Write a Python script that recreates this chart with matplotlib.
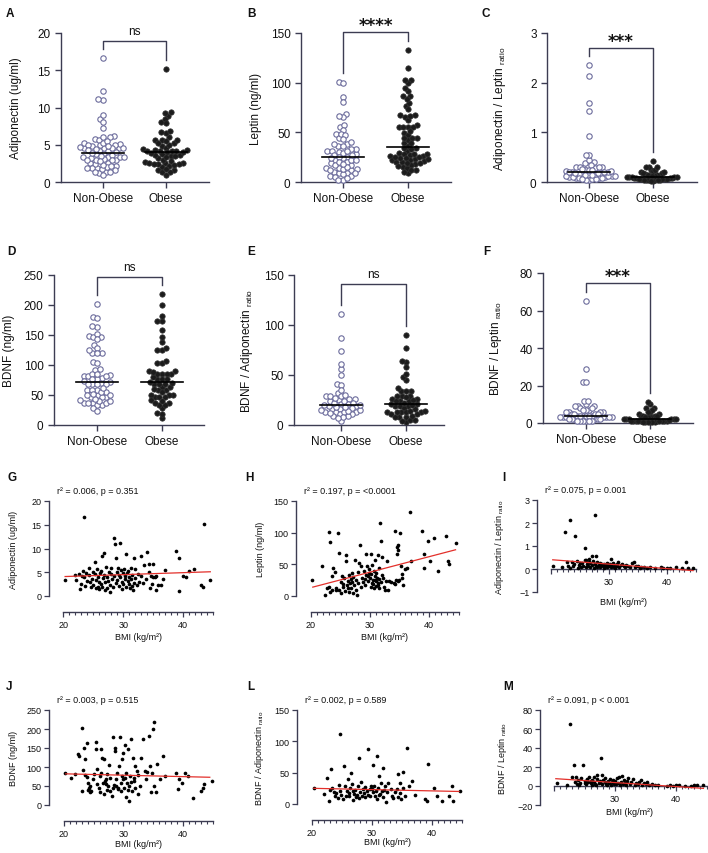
import numpy as np
import matplotlib
matplotlib.use("Agg")
import matplotlib.pyplot as plt
from matplotlib.ticker import FixedLocator, MultipleLocator

plt.rcParams["font.family"] = ["Liberation Sans", "DejaVu Sans"]
plt.rcParams["mathtext.fontset"] = "custom"
plt.rcParams["mathtext.rm"] = "Liberation Sans"
plt.rcParams["mathtext.it"] = "Liberation Sans:italic"
plt.rcParams["mathtext.bf"] = "Liberation Sans:bold"

# ---------------------------------------------------------------------------
# values: (BMI, value) for each participant
# ---------------------------------------------------------------------------
adipo_pts = [
    (20.3, 3.3), (21.9, 4.5), (22.1, 3.4), (22.6, 4.7), (22.8, 1.4), (23.0, 2.6),
    (23.1, 4.2), (23.4, 16.6), (23.3, 5.2), (23.5, 3.9), (23.6, 2.2), (23.8, 4.8),
    (23.9, 3.1), (24.2, 5.8), (24.3, 4.5), (24.4, 2.9), (24.6, 1.9), (24.8, 3.6),
    (24.9, 5.0), (25.0, 2.4), (25.2, 7.2), (25.3, 4.6), (25.4, 1.6), (25.5, 3.3),
    (25.6, 5.6), (25.7, 2.0), (25.8, 4.1), (25.9, 1.4), (26.0, 3.0), (26.1, 4.9),
    (26.2, 2.6), (26.3, 5.3), (26.5, 8.4), (26.5, 1.9), (26.6, 3.7), (26.7, 4.4),
    (26.8, 9.0), (26.9, 1.2), (27.0, 2.9), (27.1, 6.2), (27.2, 4.0), (27.3, 1.7),
    (27.5, 3.2), (27.6, 5.1), (27.7, 2.3), (27.8, 0.9), (27.9, 4.6), (28.0, 6.0),
    (28.1, 3.5), (28.2, 1.9), (28.4, 12.2), (28.5, 4.3), (28.6, 11.0), (28.7, 8.0),
    (28.8, 2.8), (28.9, 5.0), (29.0, 3.3), (29.1, 6.0), (29.2, 2.1), (29.3, 4.5),
    (29.4, 11.1), (29.5, 3.9), (29.6, 5.5), (29.7, 1.4), (29.8, 3.0), (29.9, 4.8),
    (30.0, 2.5), (30.1, 5.6), (30.2, 3.6), (30.3, 4.2), (30.4, 8.9), (30.5, 2.0),
    (30.6, 4.8), (30.7, 3.2), (30.8, 5.2), (30.9, 2.6), (31.0, 4.0), (31.1, 1.6),
    (31.2, 3.5), (31.3, 6.0), (31.4, 2.2), (31.5, 4.4), (31.6, 1.3), (31.7, 8.0),
    (31.8, 2.8), (31.9, 5.7), (32.0, 3.7), (32.2, 2.4), (32.4, 4.6), (32.6, 3.0),
    (32.9, 4.3), (33.0, 8.5), (33.2, 2.7), (33.5, 6.6), (33.8, 3.5), (34.0, 9.3),
    (34.2, 6.8), (34.3, 5.0), (34.5, 1.6), (34.6, 4.3), (34.7, 2.6), (34.9, 6.7),
    (35.0, 4.0), (35.2, 4.1), (35.4, 4.2), (35.5, 1.3), (35.8, 2.4), (36.2, 2.4),
    (36.6, 3.6), (37.0, 5.5), (38.8, 9.4), (39.2, 7.9), (39.2, 1.0), (40.0, 4.2),
    (40.4, 3.9), (41.0, 5.2), (41.8, 5.6), (43.0, 2.3), (43.3, 1.8), (43.5, 15.2),
    (44.5, 3.4),
]

leptin_pts = [
    (20.2, 25), (21.9, 48), (22.4, 2), (22.7, 12), (23.0, 14), (23.1, 101),
    (23.3, 86), (23.2, 6), (23.5, 31), (23.6, 9), (23.8, 44), (24.0, 38),
    (24.2, 10), (24.3, 13), (24.5, 100), (24.7, 68), (24.8, 9), (25.0, 5),
    (25.1, 22), (25.2, 31), (25.4, 14), (25.5, 19), (25.6, 28), (25.8, 8),
    (25.9, 65), (26.0, 55), (26.1, 17), (26.2, 24), (26.3, 12), (26.4, 33),
    (26.5, 6), (26.6, 20), (26.7, 27), (26.8, 13), (26.9, 36), (27.0, 22),
    (27.1, 4), (27.2, 30), (27.3, 17), (27.5, 57), (27.6, 25), (27.7, 9),
    (27.8, 2), (27.9, 38), (28.0, 20), (28.2, 52), (28.3, 81), (28.4, 48),
    (28.5, 15), (28.6, 29), (28.8, 22), (29.0, 40), (29.1, 18), (29.2, 27),
    (29.3, 33), (29.4, 66), (29.5, 47), (29.6, 31), (29.7, 24), (29.8, 36),
    (29.9, 43),
    (30.0, 29), (30.1, 67), (30.2, 34), (30.3, 20), (30.4, 49), (30.5, 26),
    (30.6, 39), (30.7, 12), (30.8, 31), (30.9, 57), (31.0, 23), (31.1, 36),
    (31.2, 28), (31.3, 65), (31.4, 18), (31.5, 27), (31.6, 44), (31.7, 115),
    (31.8, 87), (31.9, 22), (32.0, 33), (32.1, 62), (32.3, 15), (32.5, 9),
    (32.7, 24), (32.9, 55), (33.2, 24), (33.6, 22), (34.0, 20), (34.3, 103),
    (34.4, 25), (34.5, 66), (34.6, 77), (34.7, 80), (34.8, 73), (34.9, 26),
    (35.0, 100), (35.2, 47), (35.4, 34), (35.6, 17), (35.9, 42), (36.2, 44),
    (36.8, 133), (37.0, 55), (38.8, 103), (39.1, 67), (39.2, 44), (39.8, 87),
    (40.2, 55), (40.8, 92), (41.5, 39), (42.8, 95), (43.2, 55), (43.4, 51),
    (44.5, 84), (30.2, 14), (30.5, 19), (30.8, 25), (31.0, 16), (31.3, 21),
    (31.6, 12), (32.2, 28), (33.0, 10), (34.2, 19), (34.8, 23), (35.5, 28),
]

adipo_leptin_pts = [
    (20.3, 0.14), (21.9, 0.09), (22.4, 1.60), (22.7, 0.30), (23.0, 0.12),
    (23.3, 2.14), (23.2, 0.05), (23.6, 0.30), (23.8, 0.11), (24.0, 0.22),
    (24.2, 1.43), (24.4, 0.33), (24.6, 0.06), (24.8, 0.18), (25.0, 0.25),
    (25.2, 0.10), (25.4, 0.28), (25.6, 0.15), (25.8, 0.93), (25.9, 0.38),
    (26.0, 0.07), (26.1, 0.41), (26.2, 0.20), (26.3, 0.12), (26.5, 0.30),
    (26.6, 0.45), (26.7, 0.09), (26.8, 0.24), (27.0, 0.17), (27.1, 0.55),
    (27.2, 0.35), (27.4, 0.05), (27.5, 0.21), (27.6, 2.35), (27.7, 0.14),
    (27.8, 0.55), (27.9, 0.30), (28.0, 0.10), (28.2, 0.19), (28.4, 0.26),
    (28.5, 0.08), (28.7, 0.16), (28.8, 0.22), (29.0, 0.12), (29.1, 0.20),
    (29.2, 0.06), (29.4, 0.18), (29.5, 0.13), (29.6, 0.25), (29.7, 0.09),
    (29.8, 0.15), (29.9, 0.21),
    (30.0, 0.12), (30.2, 0.20), (30.3, 0.08), (30.4, 0.43), (30.5, 0.15),
    (30.7, 0.25), (30.8, 0.10), (31.0, 0.18), (31.1, 0.06), (31.3, 0.22),
    (31.4, 0.14), (31.6, 0.30), (31.8, 0.09), (32.0, 0.16), (32.2, 0.20),
    (32.5, 0.11), (32.8, 0.07), (33.0, 0.18), (33.3, 0.13), (33.6, 0.10),
    (34.0, 0.25), (34.3, 0.30), (34.5, 0.08), (34.7, 0.15), (35.0, 0.12),
    (35.3, 0.05), (35.6, 0.10), (36.0, 0.07), (36.5, 0.04), (37.0, 0.08),
    (38.0, 0.05), (39.0, 0.10), (39.3, 0.04), (40.0, 0.06), (40.5, 0.05),
    (41.5, 0.07), (42.5, 0.03), (43.3, 0.30), (43.6, 0.04), (44.5, 0.03),
]

bdnf_pts = [
    (20.2, 83), (21.1, 70), (21.8, 82), (22.4, 134), (22.6, 128), (23.0, 202),
    (23.3, 149), (23.6, 120), (23.9, 164), (23.1, 37), (23.2, 92), (23.5, 78),
    (23.9, 73), (24.0, 59), (24.2, 46), (24.3, 33), (24.4, 50), (24.6, 37),
    (24.9, 68), (25.0, 81), (25.3, 165), (25.4, 147), (25.5, 94), (25.8, 46),
    (26.0, 33), (26.1, 77), (26.3, 85), (26.3, 147), (26.4, 125), (26.6, 59),
    (26.7, 28), (26.8, 120), (27.0, 55), (27.1, 68), (27.2, 81), (27.4, 50),
    (27.6, 105), (27.7, 37), (27.8, 72), (28.0, 24), (28.2, 180), (28.5, 151),
    (28.6, 143), (28.7, 68), (28.8, 50), (28.9, 85), (29.1, 46), (29.2, 103),
    (29.4, 178), (29.5, 59), (29.6, 37), (29.7, 77), (29.8, 120), (29.9, 68),
    (24.1, 40), (25.6, 55), (26.9, 62), (28.3, 44), (29.0, 42), (27.3, 40),
    (28.4, 52),
    (30.0, 138), (30.1, 46), (30.2, 158), (30.4, 20), (30.5, 85), (30.6, 59),
    (30.8, 147), (30.9, 11), (31.0, 50), (31.1, 77), (31.3, 173), (31.5, 37),
    (31.6, 125), (31.7, 63), (31.9, 103), (32.0, 46), (32.2, 90), (32.4, 28),
    (32.7, 50), (33.0, 125), (33.3, 173), (33.6, 90), (33.8, 68), (34.3, 182),
    (34.5, 103), (34.7, 33), (34.8, 85), (35.0, 200), (35.1, 219), (35.2, 50),
    (35.5, 33), (35.6, 107), (36.1, 68), (36.6, 129), (37.0, 77), (38.8, 85),
    (39.2, 41), (39.4, 68), (39.9, 59), (40.3, 85), (40.9, 77), (41.7, 19),
    (43.1, 37), (43.4, 46), (43.6, 55), (44.9, 63), (30.3, 72), (31.2, 60),
    (32.5, 80), (34.0, 88), (30.7, 40), (31.8, 70),
]

bdnf_adipo_pts = [
    (20.3, 25), (22.0, 16), (22.5, 41), (22.9, 4), (23.2, 56), (23.4, 26),
    (23.6, 19), (23.8, 13), (24.6, 111), (25.3, 61), (25.5, 29), (25.8, 21),
    (26.0, 40), (26.2, 13), (26.5, 50), (26.6, 32), (26.9, 21), (27.0, 16),
    (27.4, 11), (27.6, 29), (27.8, 74), (28.0, 19), (28.3, 13), (28.5, 24),
    (28.8, 11), (29.4, 87), (29.6, 24), (29.7, 13), (29.9, 29), (24.0, 18),
    (24.3, 9), (24.9, 15), (25.1, 8), (26.4, 26), (27.2, 22), (27.9, 9),
    (28.6, 17), (29.1, 20), (29.3, 14), (24.5, 30), (26.8, 7), (28.1, 35),
    (25.6, 12), (23.0, 22), (26.1, 18), (27.5, 15), (28.9, 27), (24.7, 20),
    (30.2, 63), (30.8, 77), (31.2, 45), (31.9, 58), (34.4, 48), (35.2, 51),
    (35.8, 90), (39.3, 64), (30.0, 24), (30.2, 19), (30.4, 29), (30.5, 13),
    (30.7, 21), (30.9, 8), (31.0, 26), (31.3, 16), (31.5, 34), (31.6, 21),
    (31.9, 11), (32.1, 29), (32.3, 3), (32.5, 19), (32.7, 34), (33.1, 24),
    (33.3, 13), (33.8, 19), (34.2, 24), (34.3, 11), (34.6, 34), (34.7, 17),
    (34.9, 8), (35.1, 26), (35.5, 13), (36.2, 29), (36.6, 37), (37.1, 14),
    (38.9, 8), (39.2, 5), (40.4, 25), (40.8, 13), (41.7, 5), (42.8, 13),
    (43.3, 28), (43.5, 4), (44.7, 20), (31.1, 14), (32.0, 22), (33.5, 9),
]

bdnf_leptin_pts = [
    (20.5, 3), (22.1, 1), (22.6, 65), (23.0, 9), (23.2, 22), (23.4, 4),
    (23.6, 9), (23.8, 2), (24.0, 6), (24.3, 3), (24.5, 8), (24.8, 22),
    (25.0, 5), (25.2, 2), (25.4, 7), (25.6, 4), (25.8, 10), (26.0, 3),
    (26.2, 6), (26.3, 1), (26.5, 9), (26.6, 4), (26.8, 2), (27.0, 7),
    (27.1, 12), (27.3, 3), (27.5, 5), (27.7, 29), (27.8, 12), (27.9, 2),
    (28.1, 6), (28.3, 4), (28.4, 8), (28.6, 2), (28.8, 5), (29.0, 3),
    (29.1, 7), (29.3, 1), (29.5, 4), (29.7, 6), (29.8, 2), (29.9, 3),
    (24.1, 1), (25.1, 3), (26.1, 5), (26.9, 1), (27.6, 4), (28.7, 1),
    (30.0, 5), (30.2, 2), (30.4, 8), (30.5, 3), (30.7, 10), (30.8, 1),
    (31.0, 4), (31.1, 11), (31.3, 2), (31.5, 6), (31.6, 3), (31.8, 1),
    (32.0, 5), (32.2, 8), (32.4, 2), (32.6, 4), (32.9, 7), (33.2, 1),
    (33.5, 3), (33.8, 2), (34.0, 4), (34.3, 6), (34.5, 1), (34.7, 3),
    (35.0, 2), (35.3, 4), (35.6, 1), (36.0, 2), (36.5, 1), (37.0, 1.5),
    (38.5, 0.5), (39.0, 1), (39.5, 0.5), (40.0, 1), (40.5, 0.8), (41.5, 0.5),
    (42.5, 0.5), (43.0, 1), (43.5, 0.8), (44.5, 1),
]

# linear fit: value at the two BMI ends
fit_bmi = [20.3, 44.5]
adipo_fit = [4.1, 5.1]
leptin_fit = [14, 73]
adipo_leptin_fit = [0.40, -0.07]
bdnf_fit = [82, 73]
bdnf_adipo_fit = [25, 20]
bdnf_leptin_fit = [7.7, -2.5]

groups = ["Non-Obese", "Obese"]
obese_cut = 30
sig_marks = ["ns", "****", "***", "ns", "ns", "***"]
fit_notes = [
    "r² = 0.006, p = 0.351", "r² = 0.197, p = <0.0001", "r² = 0.075, p = 0.001",
    "r² = 0.003, p = 0.515", "r² = 0.002, p = 0.589", "r² = 0.091, p < 0.001",
]

W, H = 708, 854
fig = plt.figure(figsize=(W / 100, H / 100), dpi=100)

AX_COL = "#3c3c52"
TXT = "#111111"
OPEN_EDGE = "#6c6c9c"
FILL = "#1c1c1c"
RED = "#e3302b"


def px_axes(left, top, right, bottom):
    return fig.add_axes([left / W, 1 - bottom / H, (right - left) / W, (bottom - top) / H])


def fig_text(x, y, s, **kw):
    kw.setdefault("color", TXT)
    return fig.text(x / W, 1 - y / H, s, **kw)


def swarm(vals, y_scale, diam, max_half):
    """Beeswarm x offsets (pixels); squeezed in if wider than max_half."""
    ypx = np.asarray(vals) * y_scale
    xs = np.zeros(len(ypx))
    px_, py_ = [], []
    for i in np.argsort(ypx):
        yi = ypx[i]
        cands = [0.0]
        for xj, yj in zip(px_, py_):
            dy = yi - yj
            if abs(dy) < diam:
                dx = np.sqrt(diam ** 2 - dy ** 2)
                cands += [xj - dx, xj + dx]
        cands.sort(key=lambda c: (abs(c), c))
        best = 0.0
        for c in cands:
            if all((c - xj) ** 2 + (yi - yj) ** 2 >= diam ** 2 - 1e-6 for xj, yj in zip(px_, py_)):
                best = c
                break
        px_.append(best)
        py_.append(yi)
        xs[i] = best
    widest = np.abs(xs).max()
    if widest > max_half:
        xs = xs * max_half / widest
    return xs


def style_spines(ax):
    for s in ("top", "right"):
        ax.spines[s].set_visible(False)
    for s in ("left", "bottom"):
        ax.spines[s].set_color(AX_COL)
        ax.spines[s].set_linewidth(1.0)


def dot_panel(rect, cats_px, pts, ylim, ystep, ylabel, mark, bracket_top):
    left, top, right, bottom = rect
    ax = px_axes(left, top, right, bottom)
    unit = cats_px[1] - cats_px[0]
    ax.set_xlim(-(cats_px[0] - left) / unit, (right - cats_px[0]) / unit)
    ax.set_ylim(*ylim)
    style_spines(ax)

    bmi, val = np.array(pts).T
    sets = [val[bmi < obese_cut], val[bmi >= obese_cut]]
    y_scale = (bottom - top) / (ylim[1] - ylim[0])
    diam = 5.4
    for k, v in enumerate(sets):
        off = swarm(v, y_scale, diam * 0.85, 26) / unit
        if k == 0:
            ax.scatter(k + off, v, s=(diam * 0.72) ** 2, facecolor="white",
                       edgecolor=OPEN_EDGE, linewidth=0.8, zorder=3, clip_on=False)
        else:
            ax.scatter(k + off, v, s=(diam * 0.72) ** 2, facecolor=FILL,
                       edgecolor="#333333", linewidth=0.5, zorder=3, clip_on=False)
        med = np.median(v)
        ax.plot([k - 0.33, k + 0.33], [med, med], color="black", lw=1.2, zorder=5)

    # significance bracket
    gap = 9 / y_scale
    legs = [sets[0].max() + gap, sets[1].max() + gap]
    ax.plot([0, 0, 1, 1], [legs[0], bracket_top, bracket_top, legs[1]],
            color=AX_COL, lw=1.0, clip_on=False)
    if mark == "ns":
        ax.annotate(mark, (0.5, bracket_top), xytext=(0, 7), textcoords="offset points",
                    ha="center", va="center", fontsize=8.5, color=TXT,
                    annotation_clip=False)
    else:
        ax.annotate(mark, (0.5, bracket_top), xytext=(0, 5), textcoords="offset points",
                    ha="center", va="center", fontsize=12, fontweight="bold",
                    family="DejaVu Sans", color=TXT, annotation_clip=False)

    ax.yaxis.set_major_locator(MultipleLocator(ystep))
    ax.set_xticks([0, 1])
    ax.set_xticklabels(groups)
    ax.tick_params(axis="both", labelsize=8.5, colors=AX_COL, labelcolor=TXT,
                   length=4, width=1.0, direction="out")
    ax.tick_params(axis="x", pad=3)
    ax.set_ylabel(ylabel, fontsize=8.5, color=TXT)
    ax.yaxis.set_label_coords(-39 / (right - left), 0.5)
    return ax


def scatter_panel(geom, pts, fit, ylim, ystep, ylabel, note, cross_zero):
    left, b20, b40, top, bottom = geom
    scale = (b40 - b20) / 20.0
    right = b20 + 25 * scale
    ax = px_axes(left, top, right, bottom)
    ax.set_xlim(20 - (b20 - left) / scale, 45)
    ax.set_ylim(*ylim)
    style_spines(ax)

    bmi, val = np.array(pts).T
    ax.scatter(bmi, val, s=7, color="black", linewidth=0, zorder=3, clip_on=False)
    ax.plot(fit_bmi, fit, color=RED, lw=0.9, zorder=4)

    ax.spines["bottom"].set_bounds(20, 45)
    ax.spines["left"].set_bounds(*ylim)
    ax.xaxis.set_major_locator(FixedLocator([20, 30, 40]))
    if cross_zero:
        ax.spines["bottom"].set_position(("data", 0))
        ax.set_xticklabels(["", "30", "40"])
    else:
        ax.spines["bottom"].set_position(("outward", 11.5))
        ax.set_xticklabels(["20", "30", "40"])
    ax.xaxis.set_minor_locator(FixedLocator(np.arange(20, 46, 1)))
    ax.yaxis.set_major_locator(MultipleLocator(ystep))
    ax.tick_params(axis="both", which="major", labelsize=6.5, colors=AX_COL,
                   labelcolor=TXT, length=3.5, width=0.9, pad=2)
    ax.tick_params(axis="x", which="minor", colors=AX_COL, length=2.5, width=0.8)
    ax.set_ylabel(ylabel, fontsize=6.5, color=TXT)
    ax.yaxis.set_label_coords(-31 / (right - left), 0.5)

    fig_text(left + 8, top - 10, note, fontsize=6.5, va="center", ha="left")
    return ax, (b20 + right) / 2


# ---------------------------------------------------------------------------
# top two rows: group comparisons
# ---------------------------------------------------------------------------
dot_panel((61, 34, 209, 183), (103, 166), adipo_pts, (0, 20), 5,
          "Adiponectin (ug/ml)", sig_marks[0], 18.9)
dot_panel((301, 34, 451, 183), (343, 408), leptin_pts, (0, 150), 50,
          "Leptin (ng/ml)", sig_marks[1], 150.7)
dot_panel((547, 34, 697, 183), (589, 653), adipo_leptin_pts, (0, 3), 1,
          "Adiponectin / Leptin $_{\\mathrm{ratio}}$", sig_marks[2], 2.7)
dot_panel((54, 276, 204, 426), (97, 162), bdnf_pts, (0, 250), 50,
          "BDNF (ng/ml)", sig_marks[3], 246.7)
dot_panel((294, 276, 444, 426), (341, 406), bdnf_adipo_pts, (0, 150), 50,
          "BDNF / Adiponectin $_{\\mathrm{ratio}}$", sig_marks[4], 141)
dot_panel((543, 274, 693, 424), (586, 650), bdnf_leptin_pts, (0, 80), 20,
          "BDNF / Leptin $_{\\mathrm{ratio}}$", sig_marks[5], 74.7)

# ---------------------------------------------------------------------------
# bottom two rows: correlation with BMI
# ---------------------------------------------------------------------------
bmi_label = "BMI (kg/m²)"
_, cx = scatter_panel((49, 63.3, 183.3, 502, 597), adipo_pts, adipo_fit, (0, 20), 5,
                      "Adiponectin (ug/ml)", fit_notes[0], False)
fig_text(cx, 637, bmi_label, fontsize=6.5, ha="center", va="center")
_, cx = scatter_panel((296, 311, 429, 502, 597), leptin_pts, leptin_fit, (0, 150), 50,
                      "Leptin (ng/ml)", fit_notes[1], False)
fig_text(cx, 637, bmi_label, fontsize=6.5, ha="center", va="center")
_, cx = scatter_panel((537, 551, 667, 501, 593), adipo_leptin_pts, adipo_leptin_fit, (-1, 3), 1,
                      "Adiponectin / Leptin $_{\\mathrm{ratio}}$", fit_notes[2], True)
fig_text(623, 603, bmi_label, fontsize=6.5, ha="center", va="center")
_, cx = scatter_panel((49, 64, 183, 711, 806), bdnf_pts, bdnf_fit, (0, 250), 50,
                      "BDNF (ng/ml)", fit_notes[3], False)
fig_text(cx, 845, bmi_label, fontsize=6.5, ha="center", va="center")
_, cx = scatter_panel((297, 312, 432, 711, 805), bdnf_adipo_pts, bdnf_adipo_fit, (0, 150), 50,
                      "BDNF / Adiponectin $_{\\mathrm{ratio}}$", fit_notes[4], False)
fig_text(cx, 843, bmi_label, fontsize=6.5, ha="center", va="center")
_, cx = scatter_panel((540, 554, 676, 711, 806), bdnf_leptin_pts, bdnf_leptin_fit, (-20, 80), 20,
                      "BDNF / Leptin $_{\\mathrm{ratio}}$", fit_notes[5], True)
fig_text(630, 813, bmi_label, fontsize=6.5, ha="center", va="center")

# panel letters
letters = {
    "A": (6, 14), "B": (247, 14), "C": (481, 14),
    "D": (7, 252), "E": (247, 252), "F": (483, 252),
    "G": (7, 478), "H": (245, 478), "I": (502, 478),
    "J": (6, 687), "L": (247, 687), "M": (503, 687),
}
for s, (x, y) in letters.items():
    fig_text(x, y, s, fontsize=8.5, fontweight="bold", ha="left", va="center")

fig.savefig("out.png", dpi=100)
